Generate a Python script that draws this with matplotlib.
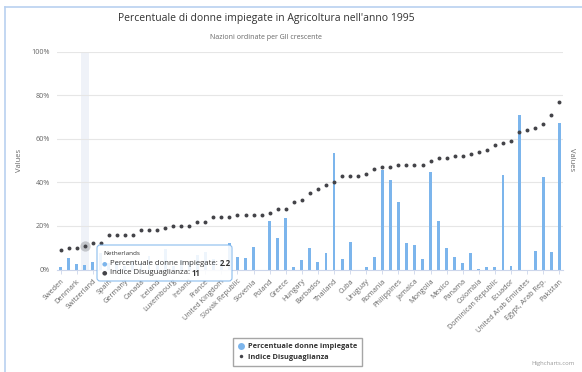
import numpy as np
import matplotlib
matplotlib.use('Agg')
import matplotlib.pyplot as plt
from matplotlib.patches import FancyBboxPatch
from matplotlib.lines import Line2D
from matplotlib.transforms import IdentityTransform

# ---------------- data ----------------
countries = [
    "Sweden", "Norway", "Denmark", "Netherlands", "Switzerland", "Finland",
    "Spain", "Belgium", "Germany", "Austria", "Canada", "Italy",
    "Iceland", "Portugal", "Luxembourg", "Japan", "Ireland", "Australia",
    "France", "Czech Republic", "United Kingdom", "Israel", "Slovak Republic", "Estonia",
    "Slovenia", "Lithuania", "Poland", "Latvia", "Greece", "Bulgaria",
    "Hungary", "Costa Rica", "Barbados", "Chile", "Thailand", "Argentina",
    "Cuba", "Malaysia", "Uruguay", "Turkey", "Romania", "Moldova",
    "Philippines", "Peru", "Jamaica", "Venezuela", "Mongolia", "Sri Lanka",
    "Mexico", "Belize", "Panama", "Nicaragua", "Colombia", "Qatar",
    "Dominican Republic", "Indonesia", "Ecuador", "Bangladesh", "United Arab Emirates", "Honduras",
    "Egypt, Arab Rep.", "Saudi Arabia", "Pakistan",
]
women_agri = [
    1.3, 5.1, 2.4, 2.2, 3.4, 7.5,
    2.8, 3.5, 1.5, 4.0, 3.0, 6.0,
    2.0, 9.5, 1.5, 4.5, 3.5, 6.5,
    8.0, 5.0, 4.0, 12.3, 5.9, 5.1,
    10.5, np.nan, 22.1, 14.3, 23.5, 1.0,
    4.4, 10.0, 3.3, 7.4, 53.3, 4.7,
    12.8, np.nan, 1.3, 5.9, 45.7, 41.2,
    30.8, 12.3, 11.4, 5.0, 44.8, 22.1,
    10.0, 5.9, 3.0, 7.6, 0.2, 1.3,
    1.3, 43.4, 1.6, 70.9, np.nan, 8.6,
    42.5, 7.9, 67.3,
]
gii = [
    9, 10, 10, 11, 12, 12,
    16, 16, 16, 16, 18, 18,
    18, 19, 20, 20, 20, 22,
    22, 24, 24, 24, 25, 25,
    25, 25, 26, 28, 28, 31,
    32, 35, 37, 39, 40, 43,
    43, 43, 44, 46, 47, 47,
    48, 48, 48, 48, 50, 51,
    51, 52, 52, 53, 54, 55,
    57, 58, 59, 63, 64, 65,
    67, 71, 77,
]
y_ticks = [0, 20, 40, 60, 80, 100]
y_tick_labels = ["0%", "20%", "40%", "60%", "80%", "100%"]
series_names = ["Percentuale donne impiegate", "Indice Disuguaglianza"]
title = "Percentuale di donne impiegate in Agricoltura nell'anno 1995"
subtitle = "Nazioni ordinate per GII crescente"
hover_index = 3

# ---------------- style ----------------
FONT = ["Open Sans", "DejaVu Sans"]
plt.rcParams['font.family'] = FONT
BAR_C = '#7cb5ec'
DOT_C = '#434348'
W, H = 582, 372

fig = plt.figure(figsize=(W / 100, H / 100), dpi=100)
fig.patch.set_facecolor('white')

left, right, top, bottom = 56.5, 563.3, 51.7, 269.5
ax = fig.add_axes([left / W, 1 - bottom / H, (right - left) / W, (bottom - top) / H])
n = len(countries)
x = np.arange(n)
ax.set_xlim(-0.5, n - 0.5)
ax.set_ylim(0, 100)

# crosshair band
ax.axvspan(hover_index - 0.5, hover_index + 0.5, color='#ccd6eb', alpha=0.3, lw=0, zorder=0.5)

# gridlines
for t in y_ticks[1:]:
    ax.axhline(t, color='#e6e6e6', lw=0.8, zorder=0.6)

ax.bar(x, women_agri, width=0.36, color=BAR_C, zorder=2)
ax.scatter([hover_index], [gii[hover_index]], s=55, color=DOT_C, alpha=0.25, lw=0, zorder=2.9)
ax.scatter(x, gii, s=8, color=DOT_C, lw=0, zorder=3)

for s in ['top', 'right', 'left']:
    ax.spines[s].set_visible(False)
ax.spines['bottom'].set_color('#ccd6eb')
ax.spines['bottom'].set_linewidth(0.8)

ax.set_yticks(y_ticks)
ax.set_yticklabels(y_tick_labels)
ax.tick_params(axis='y', length=0, pad=4.5, labelsize=5.2, labelcolor='#666666')
ax.set_xticks(x[::2])
ax.set_xticklabels(countries[::2], rotation=45, ha='right', rotation_mode='anchor')
ax.tick_params(axis='x', length=3, width=0.6, color='#ccd6eb', pad=3, labelsize=5.2, labelcolor='#666666')

ax.set_ylabel("Values", fontsize=5.5, color='#666666', labelpad=6)
fig.text(572 / W, 1 - 160 / H, "Values", rotation=-90, fontsize=5.5, color='#666666',
         ha='center', va='center')

# titles
fig.text(266 / W, 1 - 18.5 / H, title, fontsize=7.5, color='#333333', ha='center', va='center')
fig.text(266 / W, 1 - 37.5 / H, subtitle, fontsize=5.0, color='#666666', ha='center', va='center')

# tooltip
idt = IdentityTransform()
tx0, ty0, tx1, ty1 = 97, 245, 232, 281
box = FancyBboxPatch((tx0, H - ty1), tx1 - tx0, ty1 - ty0,
                     boxstyle="round,pad=0,rounding_size=3", transform=idt,
                     facecolor='white', alpha=0.88, edgecolor=BAR_C, lw=0.8, zorder=10)
fig.patches.append(box)
fig.text(103 / W, 1 - 253.5 / H, countries[hover_index], fontsize=4.6, color='#333333',
         ha='left', va='center', zorder=11)
fig.canvas.draw()
renderer = fig.canvas.get_renderer()
rows = [
    (BAR_C, series_names[0], f"{women_agri[hover_index]:.1f}", 263.5),
    (DOT_C, series_names[1], f"{gii[hover_index]}", 273),
]
for col, name, val, yy in rows:
    fig.text(102 / W, 1 - yy / H, "\u25CF", fontsize=4.5, color=col, ha='left', va='center',
             family='DejaVu Sans', zorder=11)
    t = fig.text(110 / W, 1 - yy / H, name + ": ", fontsize=5.6, color='#333333',
                 ha='left', va='center', zorder=11)
    bb = t.get_window_extent(renderer)
    fig.text(bb.x1 / W, 1 - yy / H, val, fontsize=5.6, color='#333333', fontweight='bold',
             ha='left', va='center', zorder=11)

# legend
handles = [
    Line2D([], [], marker='o', color='none', markerfacecolor=BAR_C, markeredgecolor='none', markersize=5),
    Line2D([], [], marker='o', color='none', markerfacecolor=DOT_C, markeredgecolor='none', markersize=2.5),
]
leg = fig.legend(handles, series_names, loc='center', bbox_to_anchor=(297.5 / W, 1 - 352 / H),
                 frameon=True, fancybox=False, handlelength=0.8, handletextpad=0.6,
                 borderpad=0.7, labelspacing=0.5, prop={'size': 5.3, 'weight': 'bold', 'family': FONT})
leg.get_frame().set_edgecolor('#909090')
leg.get_frame().set_linewidth(1.0)
for t in leg.get_texts():
    t.set_color('#333333')

# credit
fig.text(575 / W, 1 - 363 / H, "Highcharts.com", fontsize=4.2, color='#999999', ha='right', va='center')

# container border (top and left)
fig.add_artist(Line2D([5 / W, 5 / W], [0, 1 - 7 / H], color='#b9d1f0', lw=1.2, transform=fig.transFigure))
fig.add_artist(Line2D([5 / W, 1], [1 - 7 / H, 1 - 7 / H], color='#b9d1f0', lw=1.2, transform=fig.transFigure))

fig.savefig("out.png", dpi=100, facecolor='white')
